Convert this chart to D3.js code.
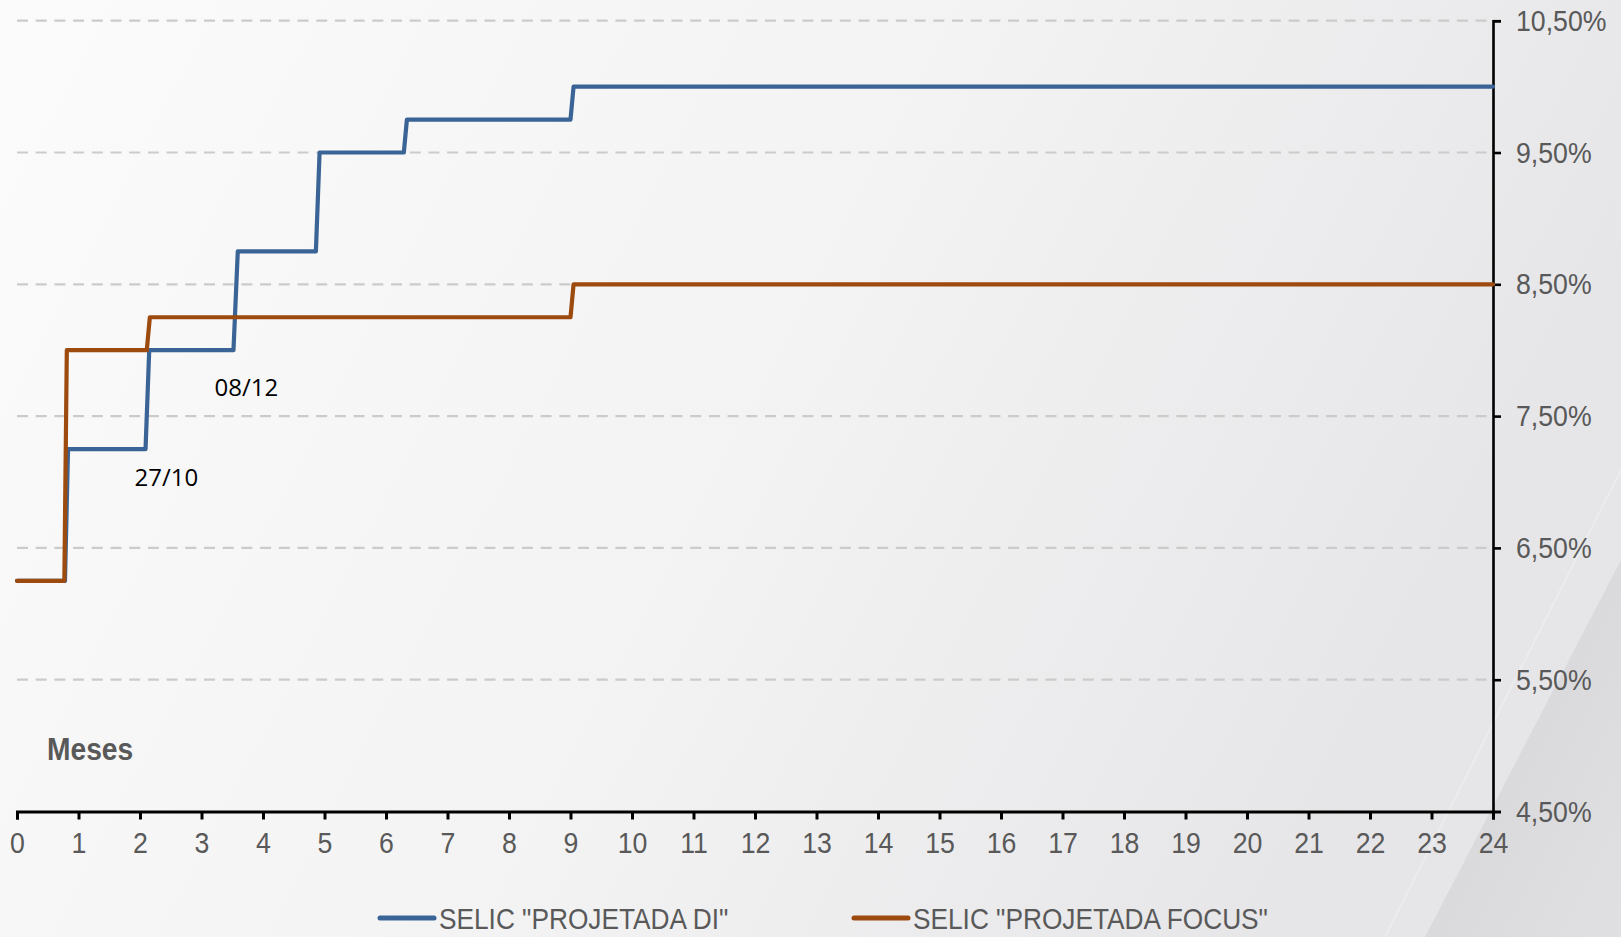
<!DOCTYPE html>
<html>
<head>
<meta charset="utf-8">
<script src="https://cdn.jsdelivr.net/npm/d3@7"></script>
<style>
  html, body { margin: 0; padding: 0; overflow: hidden; background: #f6f6f6; }
  svg { display: block; }
  .narrow { font-family: "Liberation Sans Narrow", "Arial Narrow", "Liberation Sans", Arial, sans-serif; }
</style>
</head>
<body>
<svg id="chart" width="1621" height="937"></svg>
<script>
// ---- Data ----
const xTicks = [0,1,2,3,4,5,6,7,8,9,10,11,12,13,14,15,16,17,18,19,20,21,22,23,24];
const yTicks = [4.5, 5.5, 6.5, 7.5, 8.5, 9.5, 10.5];
const yTickLabels = ["4,50%","5,50%","6,50%","7,50%","8,50%","9,50%","10,50%"];

const diMonths = [0, 0.78, 0.83, 2.09, 2.15, 3.52, 3.59, 4.86, 4.92, 6.29, 6.34, 9.00, 9.05, 24];
const diValues = [6.25, 6.25, 7.25, 7.25, 8.00, 8.00, 8.75, 8.75, 9.50, 9.50, 9.75, 9.75, 10.00, 10.00];

const focusMonths = [0, 0.77, 0.81, 2.11, 2.16, 9.00, 9.05, 24];
const focusValues = [6.25, 6.25, 8.00, 8.00, 8.25, 8.25, 8.50, 8.50];

const seriesNames = ['SELIC "PROJETADA DI"', 'SELIC "PROJETADA FOCUS"'];
const seriesColors = ["#3b6496", "#9c4a0e"];

const annotations = [
  { label: "27/10", month: 2.43, value: 6.97 },
  { label: "08/12", month: 3.73, value: 7.65 }
];

// ---- Drawing ----
const W = 1621, H = 937;
const SX = 0.89; // horizontal condensing of the narrow face
const svg = d3.select("#chart");

// background
const defs = svg.append("defs");
const bg = defs.append("linearGradient").attr("id", "bg").attr("x1", "0").attr("y1", "0").attr("x2", "1").attr("y2", "0.3");
bg.append("stop").attr("offset", "0").attr("stop-color", "#fbfbfb");
bg.append("stop").attr("offset", "0.55").attr("stop-color", "#f3f3f4");
bg.append("stop").attr("offset", "1").attr("stop-color", "#e6e6e8");
svg.append("rect").attr("width", W).attr("height", H).attr("fill", "url(#bg)");

const wedge = defs.append("linearGradient").attr("id", "wedge").attr("x1", "0").attr("y1", "0").attr("x2", "1").attr("y2", "1");
wedge.append("stop").attr("offset", "0").attr("stop-color", "#d4d4d6");
wedge.append("stop").attr("offset", "1").attr("stop-color", "#e0e0e2");
svg.append("path").attr("d", `M${W},560 L${W},${H} L1425,${H} Z`).attr("fill", "url(#wedge)");
svg.append("path").attr("d", `M${W},470 L1385,${H}`).attr("stroke", "#f0f0f1").attr("stroke-width", 2).attr("fill", "none").attr("opacity", 0.6);

const x = d3.scaleLinear().domain([0, 24]).range([17, 1493]);
const y = d3.scaleLinear().domain([4.5, 10.5]).range([811.5, 20.7]);

// gridlines
svg.append("g").selectAll("line").data(yTicks.filter(v => v > 4.5)).join("line")
  .attr("x1", x(0)).attr("x2", x(24))
  .attr("y1", d => y(d)).attr("y2", d => y(d))
  .attr("stroke", "#cbcbcb").attr("stroke-width", 2.2).attr("stroke-dasharray", "11,7.7");

// x axis
const xAxis = svg.append("g").attr("transform", `translate(0,${y(4.5)})`)
  .call(d3.axisBottom(x).tickValues(xTicks).tickSize(8).tickPadding(12).tickFormat(d3.format("d")));
xAxis.select(".domain").attr("stroke", "#000").attr("stroke-width", 3);
xAxis.selectAll(".tick line").attr("stroke", "#000").attr("stroke-width", 3);
xAxis.selectAll(".tick text").attr("class", "narrow").attr("font-size", 30).attr("fill", "#595959")
  .attr("transform", `scale(${SX},1)`);

// y axis (right)
const yAxis = svg.append("g").attr("transform", `translate(${x(24)},0)`)
  .call(d3.axisRight(y).tickValues(yTicks).tickSize(8).tickPadding(15).tickFormat((d, i) => yTickLabels[i]));
yAxis.select(".domain").attr("stroke", "#000").attr("stroke-width", 2.6);
yAxis.selectAll(".tick line").attr("stroke", "#000").attr("stroke-width", 2.6);
yAxis.selectAll(".tick text").attr("class", "narrow").attr("font-size", 30).attr("fill", "#595959")
  .attr("x", 23 / SX).attr("transform", `scale(${SX},1)`);

// lines
const line = d3.line().x(d => x(d[0])).y(d => y(d[1]));
const diData = diMonths.map((m, i) => [m, diValues[i]]);
const focusData = focusMonths.map((m, i) => [m, focusValues[i]]);

svg.append("path").datum(diData).attr("d", line)
  .attr("fill", "none").attr("stroke", seriesColors[0]).attr("stroke-width", 4.2)
  .attr("stroke-linejoin", "round").attr("stroke-linecap", "round");
svg.append("path").datum(focusData).attr("d", line)
  .attr("fill", "none").attr("stroke", seriesColors[1]).attr("stroke-width", 4.2)
  .attr("stroke-linejoin", "round").attr("stroke-linecap", "round");

// annotations
svg.append("g").selectAll("text").data(annotations).join("text")
  .attr("x", d => x(d.month)).attr("y", d => y(d.value))
  .attr("text-anchor", "middle")
  .attr("font-family", "'Open Sans', 'Noto Sans', sans-serif").attr("font-size", 24).attr("fill", "#000")
  .text(d => d.label);

// "Meses"
svg.append("text").attr("x", 47 / 0.91).attr("y", 760)
  .attr("transform", "scale(0.91,1)")
  .attr("class", "narrow").attr("font-weight", "bold").attr("font-size", 31).attr("fill", "#595959")
  .text("Meses");

// legend
const legendX = [380, 854];
const lg = svg.append("g").selectAll("g").data(seriesNames).join("g")
  .attr("transform", (d, i) => `translate(${legendX[i]},918)`);
lg.append("line").attr("x1", 0).attr("x2", 54).attr("y1", 0).attr("y2", 0)
  .attr("stroke", (d, i) => seriesColors[i]).attr("stroke-width", 5).attr("stroke-linecap", "round");
lg.append("text").attr("x", 59 / SX).attr("y", 11).attr("transform", `scale(${SX},1)`)
  .attr("class", "narrow").attr("font-size", 29.5).attr("fill", "#595959")
  .text(d => d);
</script>
</body>
</html>
